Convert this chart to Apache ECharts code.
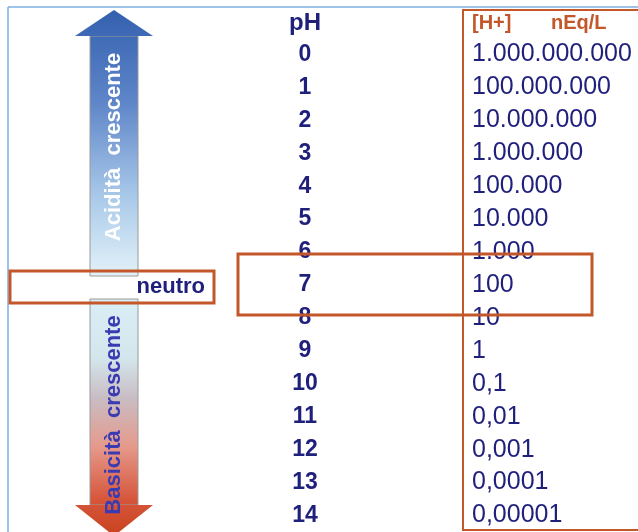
<!DOCTYPE html>
<html>
<head>
<meta charset="utf-8">
<script src="https://cdn.jsdelivr.net/npm/echarts@6/dist/echarts.min.js"></script>
<style>
  html, body { margin: 0; padding: 0; background: #ffffff; }
  #chart { width: 638px; height: 532px; }
</style>
</head>
<body>
<div id="chart"></div>
<script>
// pH scale and the matching hydrogen-ion concentration in nEq/L
const phValues = [0, 1, 2, 3, 4, 5, 6, 7, 8, 9, 10, 11, 12, 13, 14];
const hConcentration = [1000000000, 100000000, 10000000, 1000000, 100000, 10000, 1000, 100, 10, 1, 0.1, 0.01, 0.001, 0.0001, 0.00001];
const columns = ['pH', '[H+] nEq/L'];

const NAVY = '#1f1f7c';
const RUST = '#c4572a';
const FONT = '"Liberation Sans", Arial, sans-serif';

// Italian number style: dots group thousands, comma marks decimals
function formatIt(v) {
  if (v >= 1) {
    return String(Math.round(v)).replace(/\B(?=(\d{3})+(?!\d))/g, '.');
  }
  return String(v).replace('.', ',');
}

const phLabels = phValues.map(String);

const chart = echarts.init(document.getElementById('chart'), null, { renderer: 'canvas' });

const upGradient = {
  type: 'linear', global: true, x: 0, y: 10, x2: 0, y2: 276,
  colorStops: [
    { offset: 0, color: '#3360ae' },
    { offset: 0.35, color: '#5f86c9' },
    { offset: 0.7, color: '#a9c9e9' },
    { offset: 1, color: '#e2f1f8' }
  ]
};
const downGradient = {
  type: 'linear', global: true, x: 0, y: 299, x2: 0, y2: 536,
  colorStops: [
    { offset: 0, color: '#d9eef5' },
    { offset: 0.25, color: '#d3e6ec' },
    { offset: 0.42, color: '#c9bcc3' },
    { offset: 0.62, color: '#e59a8c' },
    { offset: 0.85, color: '#d6553a' },
    { offset: 1, color: '#c8431f' }
  ]
};

const headerRich = {
  p: { fontFamily: FONT, fontSize: 24, fontWeight: 'bold', color: NAVY },
  h: { fontFamily: FONT, fontSize: 20, fontWeight: 'bold', color: RUST, width: 79 },
  u: { fontFamily: FONT, fontSize: 20, fontWeight: 'bold', color: RUST }
};

chart.setOption({
  animation: false,
  backgroundColor: '#ffffff',
  grid: { left: 221.5, right: 82.5, top: 38, bottom: 0 },
  xAxis: {
    type: 'category',
    position: 'top',
    data: [
      { value: columns[0], textStyle: { align: 'center', verticalAlign: 'middle' } },
      { value: columns[1], textStyle: { align: 'left', verticalAlign: 'middle' } }
    ],
    axisLine: { show: false },
    axisTick: { show: false },
    splitLine: { show: false },
    axisLabel: {
      show: true,
      margin: 15,
      verticalAlign: 'middle',
      formatter: function (v) {
        return v === 'pH' ? '{p|pH}' : '{h|[H+]}{u|nEq/L}';
      },
      rich: headerRich
    }
  },
  yAxis: {
    type: 'category',
    inverse: true,
    data: phLabels,
    show: false
  },
  series: [
    {
      name: 'pH',
      type: 'scatter',
      symbolSize: 0,
      itemStyle: { opacity: 1 },
      data: phValues.map(function (p) { return [columns[0], String(p)]; }),
      label: {
        show: true,
        position: 'inside',
        opacity: 1,
        formatter: function (d) { return d.value[1]; },
        fontFamily: FONT, fontSize: 23, fontWeight: 'bold', color: NAVY
      },
      z: 3
    },
    {
      name: '[H+]',
      type: 'scatter',
      symbolSize: 0,
      itemStyle: { opacity: 1 },
      data: hConcentration.map(function (v, i) { return [columns[1], String(phValues[i]), v]; }),
      label: {
        show: true,
        position: 'right',
        distance: 0,
        opacity: 1,
        formatter: function (d) { return formatIt(d.value[2]); },
        fontFamily: FONT, fontSize: 25, color: NAVY
      },
      z: 3
    }
  ],
  graphic: [
    // slide frame
    { type: 'line', shape: { x1: 8, y1: 7, x2: 638, y2: 7 }, style: { stroke: '#7eaee2', lineWidth: 1.5 }, z: 1 },
    { type: 'line', shape: { x1: 8, y1: 7, x2: 8, y2: 532 }, style: { stroke: '#7eaee2', lineWidth: 1.5 }, z: 1 },
    // frame of the concentration column
    { type: 'polyline', shape: { points: [[638, 10], [463, 10], [463, 530], [638, 530]] }, style: { stroke: RUST, lineWidth: 2, fill: null }, z: 10 },
    // acidity arrow
    { type: 'rect', shape: { x: 90, y: 36, width: 48, height: 240 }, style: { fill: upGradient, stroke: '#9a9a9a', lineWidth: 1 }, z: 1 },
    { type: 'polygon', shape: { points: [[114, 10], [75, 36], [153, 36]] }, style: { fill: upGradient }, z: 1 },
    // basicity arrow
    { type: 'rect', shape: { x: 90, y: 299, width: 48, height: 206 }, style: { fill: downGradient, stroke: '#9a9a9a', lineWidth: 1 }, z: 1 },
    { type: 'polygon', shape: { points: [[75, 505], [153, 505], [114, 536]] }, style: { fill: downGradient }, z: 1 },
    // arrow captions
    { type: 'text', x: 114, y: 147, rotation: Math.PI / 2,
      style: { text: 'Acidità  crescente', fill: '#ffffff', font: 'bold 22px ' + FONT, align: 'center', verticalAlign: 'middle' }, z: 2 },
    { type: 'text', x: 114, y: 415, rotation: Math.PI / 2,
      style: { text: 'Basicità  crescente', fill: '#3a3ab2', font: 'bold 22px ' + FONT, align: 'center', verticalAlign: 'middle' }, z: 2 },
    // neutral marker
    { type: 'rect', shape: { x: 10, y: 271, width: 204, height: 32 }, style: { fill: null, stroke: RUST, lineWidth: 3 }, z: 10 },
    { type: 'text', x: 205, y: 287,
      style: { text: 'neutro', fill: NAVY, font: 'bold 22px ' + FONT, align: 'right', verticalAlign: 'middle' }, z: 10 },
    // highlight of the neutral row
    { type: 'rect', shape: { x: 238, y: 254, width: 354, height: 61 }, style: { fill: null, stroke: RUST, lineWidth: 3 }, z: 10 }
  ]
});
</script>
</body>
</html>
